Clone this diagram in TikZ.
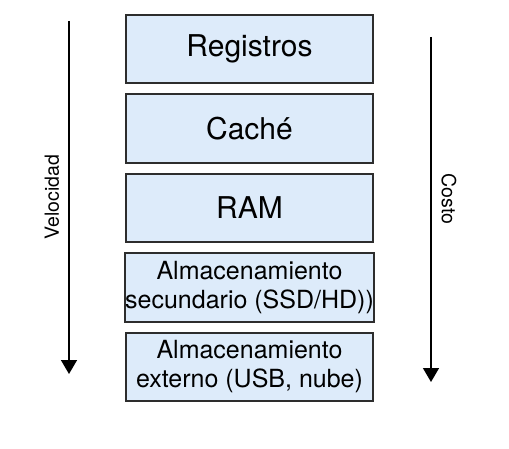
\documentclass[tikz,border=0pt]{standalone}
\usepackage{fontspec}
\setmainfont{TeX Gyre Heros}
\usepackage{tikz}
\usetikzlibrary{positioning}
\usetikzlibrary{arrows.meta}
\definecolor{cajafondo}{RGB}{221,235,250}
\definecolor{cajaborde}{RGB}{45,45,45}
\tikzset{
  caja/.style={draw=cajaborde, fill=cajafondo, line width=1.6pt, outer sep=0pt,
    minimum width=247pt, minimum height=68.5pt, inner sep=0pt, align=center},
  grande/.style={font=\fontsize{30}{34}\selectfont},
  chica/.style={font=\fontsize{25}{29}\selectfont},
  flecha/.style={line width=1.5pt, -{Triangle[width=16pt,length=14pt]}},
  rotulo/.style={font=\fontsize{19.5}{22}\selectfont}
}

\begin{document}
\begin{tikzpicture}[x=1pt, y=-1pt]
    \useasboundingbox (0,0) rectangle (509,449);
    \node[caja, grande] (reg) at (249.5,49) {Registros};
    \node[caja, grande, below =11pt of reg] (cache) {Caché};
    \node[caja, grande, below =11pt of cache] (ram) {RAM};
    \node[caja, chica, below =11pt of ram] (sec) {Almacenamiento\\secundario (SSD/HD))};
    \node[caja, chica, below =11pt of sec] (ext) {Almacenamiento\\externo (USB, nube)};
    \coordinate (v1) at (69,21);
    \coordinate (v2) at (69,374);
    \coordinate (c1) at (431,37);
    \coordinate (c2) at (431,382);
    \draw[flecha] (v1) -- (v2);
    \draw[flecha] (c1) -- (c2);
    \node[rotulo, rotate=90] (vel) at (52,197) {Velocidad};
    \node[rotulo, rotate=-90] (costo) at (449,199) {Costo};
\end{tikzpicture}
\end{document}
